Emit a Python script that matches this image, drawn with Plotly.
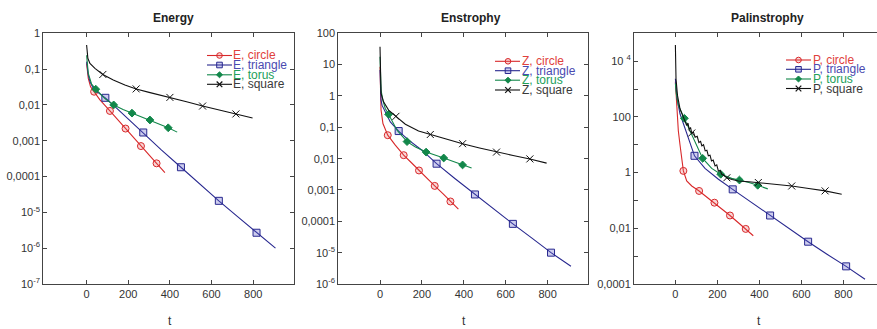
import plotly.graph_objects as go

# ---------------- data ----------------
# Energy
E_circle_t = [0, 3, 8, 19, 36, 64, 112, 150, 187, 225, 261, 300, 336, 376]
E_circle = [0.145, 0.089, 0.055, 0.032, 0.0234, 0.0138, 0.0068, 0.0038, 0.00219, 0.00123, 0.00071, 0.0004, 0.000234, 0.000129]
E_circle_marks = [36, 112, 187, 261, 336]

E_triangle_t = [0, 3, 8, 16, 32, 60, 90, 144, 200, 272, 360, 453, 545, 635, 725, 816, 907]
E_triangle = [0.162, 0.105, 0.069, 0.045, 0.029, 0.021, 0.0158, 0.0081, 0.004, 0.0017, 0.00055, 0.000182, 6.0e-5, 2.1e-5, 7.6e-6, 2.7e-6, 1.0e-6]
E_triangle_marks = [90, 272, 453, 635, 816]

E_torus_t = [0, 3, 8, 24, 44, 88, 130, 175, 218, 261, 304, 348, 392, 435]
E_torus = [0.245, 0.126, 0.076, 0.038, 0.0275, 0.0151, 0.01, 0.0074, 0.0059, 0.0047, 0.0038, 0.00295, 0.0023, 0.00174]
E_torus_marks = [44, 130, 218, 304, 392]

E_square_t = [0, 2, 6, 16, 40, 78, 128, 184, 238, 300, 352, 400, 480, 557, 640, 717, 797]
E_square = [0.47, 0.28, 0.2, 0.145, 0.105, 0.071, 0.05, 0.036, 0.028, 0.0224, 0.019, 0.0162, 0.0123, 0.0093, 0.0072, 0.0056, 0.0043]
E_square_marks = [78, 238, 400, 557, 717]

# Enstrophy
Z_circle_t = [0, 2, 5, 14, 37, 73, 113, 150, 186, 224, 261, 300, 336, 374]
Z_circle = [8.5, 1.55, 0.355, 0.132, 0.056, 0.027, 0.0129, 0.0074, 0.0042, 0.0024, 0.00135, 0.00076, 0.00043, 0.000245]
Z_circle_marks = [37, 113, 186, 261, 336]

Z_triangle_t = [0, 2, 5, 10, 25, 49, 89, 137, 200, 270, 360, 453, 545, 634, 725, 816, 911]
Z_triangle = [6.8, 1.74, 0.74, 0.5, 0.31, 0.148, 0.076, 0.039, 0.0186, 0.0069, 0.00224, 0.00072, 0.00024, 8.3e-5, 2.9e-5, 1.0e-5, 3.7e-6]
Z_triangle_marks = [89, 270, 453, 634, 816]

Z_torus_t = [0, 2, 5, 14, 25, 41, 81, 129, 169, 220, 262, 304, 350, 394, 437]
Z_torus = [17.8, 3.5, 1.55, 0.71, 0.4, 0.26, 0.081, 0.035, 0.0234, 0.0162, 0.0132, 0.0105, 0.0081, 0.0063, 0.005]
Z_torus_marks = [41, 129, 220, 304, 394]

Z_square_t = [0, 2, 5, 17, 41, 76, 121, 184, 240, 300, 343, 394, 475, 556, 635, 715, 795]
Z_square = [37, 3.2, 1.2, 0.65, 0.355, 0.224, 0.126, 0.076, 0.059, 0.046, 0.039, 0.030, 0.022, 0.0162, 0.0126, 0.0098, 0.0072]
Z_square_marks = [76, 240, 394, 556, 715]

# Palinstrophy
P_circle_t = [0, 3, 8, 14, 22, 28, 38, 54, 78, 113, 150, 186, 224, 260, 300, 335, 371]
P_circle = [1820, 589, 126, 31.6, 10, 3.55, 1.15, 0.50, 0.33, 0.219, 0.132, 0.083, 0.050, 0.0288, 0.0158, 0.0095, 0.0054]
P_circle_marks = [38, 113, 186, 260, 335]

P_triangle_t = [0, 3, 8, 22, 46, 70, 91, 141, 205, 273, 340, 451, 540, 632, 722, 813, 903]
P_triangle = [2340, 1000, 447, 129, 37, 12.3, 4.0, 1.41, 0.575, 0.25, 0.11, 0.0288, 0.01, 0.0033, 0.00117, 0.00043, 0.000148]
P_triangle_marks = [91, 273, 451, 632, 813]

P_torus_t = [0, 4, 14, 43, 70, 102, 130, 173, 216, 268, 305, 350, 392, 440]
P_torus = [1585, 708, 257, 89, 32.4, 9.1, 3.24, 1.41, 0.87, 0.62, 0.54, 0.44, 0.35, 0.26]
P_torus_marks = [43, 130, 216, 305, 392]

P_square_t = [0, 1, 3, 10, 22, 38, 46, 54, 60, 66, 72, 78, 86, 94, 104, 112, 120, 126, 134, 142, 150,
              157, 165, 172, 180, 189, 197, 205, 213, 221, 233, 245, 270, 300, 350, 395, 475, 554, 635, 713, 792]
P_square = [38000, 7940, 2340, 589, 195, 98, 63, 49, 60, 35.5, 41.7, 26.3, 28.2, 18.6, 20, 12, 13.2, 9.1, 10, 6.0, 6.3,
            4.0, 4.2, 2.63, 2.82, 1.74, 1.9, 1.12, 1.2, 0.87, 0.76, 0.65, 0.56, 0.5, 0.47, 0.44, 0.38, 0.33, 0.27, 0.22, 0.166]
P_square_marks = [78, 245, 395, 554, 713]

E_labels = ["E, circle", "E, triangle", "E, torus", "E, square"]
Z_labels = ["Z, circle", "Z, triangle", "Z, torus", "Z, square"]
P_labels = ["P, circle", "P, triangle", "P, torus", "P, square"]

E_tickvals = [1, 0.1, 0.01, 0.001, 0.0001, 1e-5, 1e-6, 1e-7]
E_ticktext = ["1", "0,1", "0,01", "0,001", "0,0001", "10<sup>-5</sup>", "10<sup>-6</sup>", "10<sup>-7</sup>"]
Z_tickvals = [100, 10, 1, 0.1, 0.01, 0.001, 0.0001, 1e-5, 1e-6]
Z_ticktext = ["100", "10", "1", "0,1", "0,01", "0,001", "0,0001", "10<sup>-5</sup>", "10<sup>-6</sup>"]
P_tickvals = [1e4, 100, 1, 0.01, 0.0001]
P_ticktext = ["10 <sup>4</sup>", "100", "1", "0,01", "0,0001"]
P_minorvals = [1e5, 1000, 10, 0.1, 0.001]
t_tickvals = [0, 200, 400, 600, 800]

# ---------------- styling ----------------
W, H = 877, 329
FONT = "Liberation Sans, Arial, Helvetica, sans-serif"
line_colors = ["#d8282a", "#28288f", "#12874a", "#111111"]
text_colors = ["#e0413c", "#4a4ab0", "#22a05a", "#3a3a3a"]
fill_colors = ["rgba(230,90,90,0.25)", "rgba(90,90,200,0.3)", "#12874a", "#111111"]
symbols = ["circle", "square", "diamond", "x-thin"]
sizes = [7, 7, 6, 7]


def X(px):
    return px / W


def Y(py):
    return 1 - py / H


fig = go.Figure()

panels = [
    dict(xa="x", ya="y",
         series=[(E_circle_t, E_circle, E_circle_marks), (E_triangle_t, E_triangle, E_triangle_marks),
                 (E_torus_t, E_torus, E_torus_marks), (E_square_t, E_square, E_square_marks)]),
    dict(xa="x2", ya="y2",
         series=[(Z_circle_t, Z_circle, Z_circle_marks), (Z_triangle_t, Z_triangle, Z_triangle_marks),
                 (Z_torus_t, Z_torus, Z_torus_marks), (Z_square_t, Z_square, Z_square_marks)]),
    dict(xa="x3", ya="y3",
         series=[(P_circle_t, P_circle, P_circle_marks), (P_triangle_t, P_triangle, P_triangle_marks),
                 (P_torus_t, P_torus, P_torus_marks), (P_square_t, P_square, P_square_marks)]),
]

for p in panels:
    for k, (t, v, marks) in enumerate(p["series"]):
        fig.add_trace(go.Scatter(x=t, y=v, mode="lines", line=dict(color=line_colors[k], width=1.1),
                                 xaxis=p["xa"], yaxis=p["ya"], showlegend=False, hoverinfo="skip"))
        mx = [ti for ti in t if ti in marks]
        my = [v[i] for i, ti in enumerate(t) if ti in marks]
        fig.add_trace(go.Scatter(x=mx, y=my, mode="markers",
                                 marker=dict(symbol=symbols[k], size=sizes[k], color=fill_colors[k],
                                             line=dict(color=line_colors[k], width=1)),
                                 xaxis=p["xa"], yaxis=p["ya"], showlegend=False, hoverinfo="skip"))

# axes
ytop, ybot = 33.3, 284.0
ydom = [Y(ybot), Y(ytop)]
axis_common = dict(showline=True, linecolor="#444", linewidth=1, ticks="inside", ticklen=4,
                   tickcolor="#444", tickwidth=1, showgrid=False, zeroline=False,
                   tickfont=dict(family=FONT, size=11, color="#333"))

xdoms = [[X(43.3), X(294.0)], [X(338.3), X(587.7)], [X(634.0), 1.0]]
xranges = [[-208, 996], [-199, 991], [-197, 960]]
ydefs = [([-7, 0], E_tickvals, E_ticktext), ([-6, 2], Z_tickvals, Z_ticktext), ([-4, 5], P_tickvals, P_ticktext)]

for i in range(3):
    sfx = "" if i == 0 else str(i + 1)
    fig.layout["xaxis" + sfx] = dict(axis_common, domain=xdoms[i], range=xranges[i], anchor="y" + sfx,
                                     tickvals=t_tickvals, ticktext=[str(v) for v in t_tickvals],
                                     mirror="ticks")
    yr, tv, tt = ydefs[i]
    ydict = dict(axis_common, domain=ydom, type="log", range=yr, anchor="x" + sfx,
                 tickvals=tv, ticktext=tt, mirror=("ticks" if i < 2 else False))
    if i == 2:
        ydict["minor"] = dict(tickvals=P_minorvals, ticks="inside", ticklen=4, tickcolor="#444", tickwidth=1)
    fig.layout["yaxis" + sfx] = ydict

annotations = []
shapes = []

# titles and axis labels
for txt, cx in [("Energy", 173.8), ("Enstrophy", 470.5), ("Palinstrophy", 767.0)]:
    annotations.append(dict(text="<b>%s</b>" % txt, x=X(cx), y=Y(18.3), xref="paper", yref="paper",
                            xanchor="center", yanchor="middle", showarrow=False,
                            font=dict(family=FONT, size=12, color="#222")))
for cx in [170.0, 463.7, 759.0]:
    annotations.append(dict(text="t", x=X(cx), y=Y(321), xref="paper", yref="paper",
                            xanchor="center", yanchor="middle", showarrow=False,
                            font=dict(family=FONT, size=12, color="#333")))

# custom compact legends
legends = [
    (207, 232, 219.5, 232.0, [55.5, 65.0, 74.8, 84.3], E_labels),
    (495, 520, 508.0, 520.5, [61.3, 70.7, 80.2, 90.0], Z_labels),
    (786, 811, 798.5, 811.5, [60.0, 69.3, 79.0, 88.5], P_labels),
]
for x0, x1, cx, tx, rows, labels in legends:
    for k, (cy, lab) in enumerate(zip(rows, labels)):
        c = line_colors[k]
        shapes.append(dict(type="line", xref="paper", yref="paper", x0=X(x0), x1=X(x1), y0=Y(cy), y1=Y(cy),
                           line=dict(color=c, width=1.1)))
        r = 2.8
        if k == 0:
            shapes.append(dict(type="circle", xref="paper", yref="paper", x0=X(cx - r), x1=X(cx + r),
                               y0=Y(cy + r), y1=Y(cy - r), line=dict(color=c, width=1),
                               fillcolor=fill_colors[0]))
        elif k == 1:
            shapes.append(dict(type="rect", xref="paper", yref="paper", x0=X(cx - r), x1=X(cx + r),
                               y0=Y(cy + r), y1=Y(cy - r), line=dict(color=c, width=1),
                               fillcolor=fill_colors[1]))
        elif k == 2:
            d = 3.0
            path = "M %f,%f L %f,%f L %f,%f L %f,%f Z" % (X(cx), Y(cy - d), X(cx + d), Y(cy), X(cx), Y(cy + d),
                                                        X(cx - d), Y(cy))
            shapes.append(dict(type="path", xref="paper", yref="paper", path=path,
                               line=dict(color=c, width=1), fillcolor=c))
        else:
            d = 2.8
            shapes.append(dict(type="line", xref="paper", yref="paper", x0=X(cx - d), x1=X(cx + d),
                               y0=Y(cy - d), y1=Y(cy + d), line=dict(color=c, width=1.2)))
            shapes.append(dict(type="line", xref="paper", yref="paper", x0=X(cx - d), x1=X(cx + d),
                               y0=Y(cy + d), y1=Y(cy - d), line=dict(color=c, width=1.2)))
        annotations.append(dict(text=lab, x=X(tx), y=Y(cy), xref="paper", yref="paper",
                                xanchor="left", yanchor="middle", showarrow=False, borderpad=0,
                                font=dict(family=FONT, size=12, color=text_colors[k])))

fig.update_layout(width=W, height=H, margin=dict(l=0, r=0, t=0, b=0, autoexpand=False),
                  paper_bgcolor="white", plot_bgcolor="white", showlegend=False,
                  annotations=annotations, shapes=shapes,
                  font=dict(family=FONT, size=11, color="#333"))

fig.write_html("out.html", config={"displayModeBar": False, "staticPlot": True},
               post_script="document.body.style.margin='0';document.body.style.padding='0';"
                           "document.body.style.overflow='hidden';")
